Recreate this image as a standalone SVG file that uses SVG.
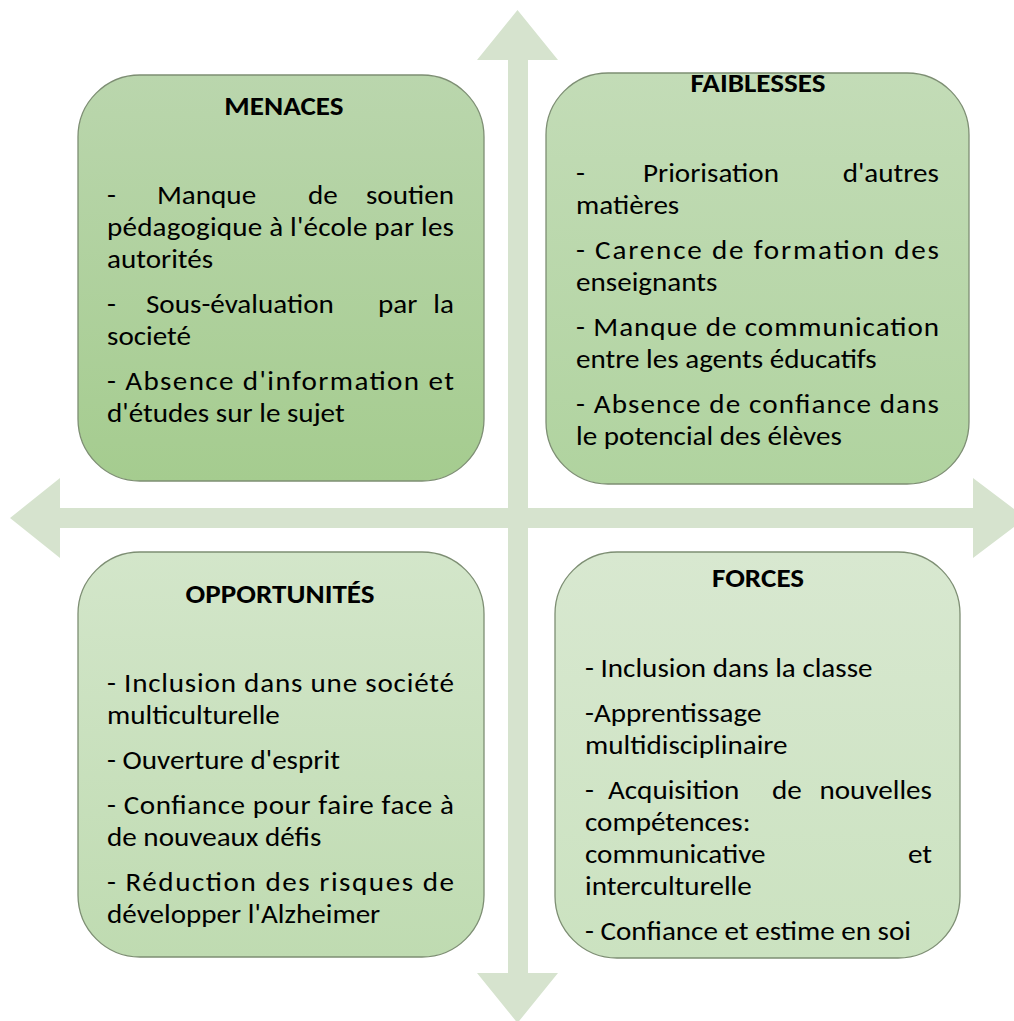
<svg xmlns="http://www.w3.org/2000/svg" width="1014" height="1021" viewBox="0 0 1014 1021">
  <defs>
    <linearGradient id="gMen" x1="0" y1="0" x2="0" y2="1">
      <stop offset="0" stop-color="#bad6ad"/>
      <stop offset="1" stop-color="#a5cc8f"/>
    </linearGradient>
    <linearGradient id="gFai" x1="0" y1="0" x2="0" y2="1">
      <stop offset="0" stop-color="#c3dcb7"/>
      <stop offset="1" stop-color="#b0d39f"/>
    </linearGradient>
    <linearGradient id="gOpp" x1="0" y1="0" x2="0" y2="1">
      <stop offset="0" stop-color="#d3e6ca"/>
      <stop offset="1" stop-color="#bfdbb1"/>
    </linearGradient>
    <linearGradient id="gFor" x1="0" y1="0" x2="0" y2="1">
      <stop offset="0" stop-color="#d8e8d0"/>
      <stop offset="1" stop-color="#cbe2c0"/>
    </linearGradient>
    <style>
      .box { stroke: #7d8e73; stroke-width: 1.3; }
      .axis { fill: #d6e3ce; }
      text { font-family: Carlito, "Open Sans", Lato, sans-serif; fill: #000000; }
      .title { font-size: 26px; font-weight: bold; text-anchor: middle; }
      .body { font-size: 26px; }
      .end { text-anchor: end; }
    </style>
  </defs>

  <rect width="1014" height="1021" fill="#ffffff"/>

  <!-- crossing double-headed axes -->
  <g id="connectors">
    <path class="axis" d="M517.5 10 L558 60 L528 60 L528 973 L558 973 L517.5 1023 L477 973 L508 973 L508 60 L477 60 Z"/>
    <path class="axis" d="M10 518 L60 478 L60 508 L973 508 L973 478 L1026 518 L973 558 L973 528 L60 528 L60 558 Z"/>
  </g>

  <!-- top-left quadrant; text is widened 1.12x from its left margin (x=107) -->
  <g id="menaces">
    <rect class="box" x="78" y="75" width="406" height="406" rx="62" ry="62" fill="url(#gMen)"/>
    <g transform="matrix(1.12 0 0 1 -12.84 0)">
      <text class="title" x="265" y="115">MENACES</text>
      <text class="body" x="107" y="204">-</text>
      <text class="body" x="151.6" y="204">Manque</text>
      <text class="body" x="286.5" y="204">de</text>
      <text class="body end" x="416.8" y="204">soutien</text>
      <text class="body" x="107" y="236" textLength="309.8" lengthAdjust="spacing">pédagogique à l'école par les</text>
      <text class="body" x="107" y="268">autorités</text>
      <text class="body" x="107" y="313">-</text>
      <text class="body" x="141.8" y="313">Sous-évaluation</text>
      <text class="body" x="349" y="313">par</text>
      <text class="body end" x="416.8" y="313">la</text>
      <text class="body" x="107" y="345">societé</text>
      <text class="body" x="107" y="390" textLength="309.8" lengthAdjust="spacing">- Absence d'information et</text>
      <text class="body" x="107" y="422">d'études sur le sujet</text>
    </g>
  </g>

  <!-- top-right quadrant; text widened from x=576 -->
  <g id="faiblesses">
    <rect class="box" x="546" y="73" width="423" height="411" rx="62" ry="62" fill="url(#gFai)"/>
    <g transform="matrix(1.12 0 0 1 -69.12 0)">
      <text class="title" x="738.5" y="92">FAIBLESSES</text>
      <text class="body" x="576" y="182">-</text>
      <text class="body" x="635.8" y="182">Priorisation</text>
      <text class="body end" x="900.1" y="182">d'autres</text>
      <text class="body" x="576" y="214">matières</text>
      <text class="body" x="576" y="259" textLength="324.1" lengthAdjust="spacing">- Carence de formation des</text>
      <text class="body" x="576" y="291">enseignants</text>
      <text class="body" x="576" y="336" textLength="324.1" lengthAdjust="spacing">- Manque de communication</text>
      <text class="body" x="576" y="368">entre les agents éducatifs</text>
      <text class="body" x="576" y="413" textLength="324.1" lengthAdjust="spacing">- Absence de confiance dans</text>
      <text class="body" x="576" y="445">le potencial des élèves</text>
    </g>
  </g>

  <!-- bottom-left quadrant; text widened from x=107 -->
  <g id="opportunites">
    <rect class="box" x="78" y="552" width="406" height="405" rx="62" ry="62" fill="url(#gOpp)"/>
    <g transform="matrix(1.12 0 0 1 -12.84 0)">
      <text class="title" x="261.5" y="603">OPPORTUNITÉS</text>
      <text class="body" x="107" y="692" textLength="309.8" lengthAdjust="spacing">- Inclusion dans une société</text>
      <text class="body" x="107" y="724">multiculturelle</text>
      <text class="body" x="107" y="769">- Ouverture d'esprit</text>
      <text class="body" x="107" y="814" textLength="309.8" lengthAdjust="spacing">- Confiance pour faire face à</text>
      <text class="body" x="107" y="846">de nouveaux défis</text>
      <text class="body" x="107" y="891" textLength="309.8" lengthAdjust="spacing">- Réduction des risques de</text>
      <text class="body" x="107" y="923">développer l'Alzheimer</text>
    </g>
  </g>

  <!-- bottom-right quadrant; text widened from x=585 -->
  <g id="forces">
    <rect class="box" x="555" y="552" width="405" height="406" rx="62" ry="62" fill="url(#gFor)"/>
    <g transform="matrix(1.12 0 0 1 -70.2 0)">
      <text class="title" x="739.5" y="587">FORCES</text>
      <text class="body" x="585" y="677">- Inclusion dans la classe</text>
      <text class="body" x="585" y="722">-Apprentissage</text>
      <text class="body" x="585" y="754">multidisciplinaire</text>
      <text class="body" x="585" y="799">-</text>
      <text class="body" x="605.5" y="799">Acquisition</text>
      <text class="body" x="752" y="799">de</text>
      <text class="body end" x="894.8" y="799">nouvelles</text>
      <text class="body" x="585" y="831">compétences:</text>
      <text class="body" x="585" y="863">communicative</text>
      <text class="body end" x="894.8" y="863">et</text>
      <text class="body" x="585" y="895">interculturelle</text>
      <text class="body" x="585" y="940">- Confiance et estime en soi</text>
    </g>
  </g>
</svg>
